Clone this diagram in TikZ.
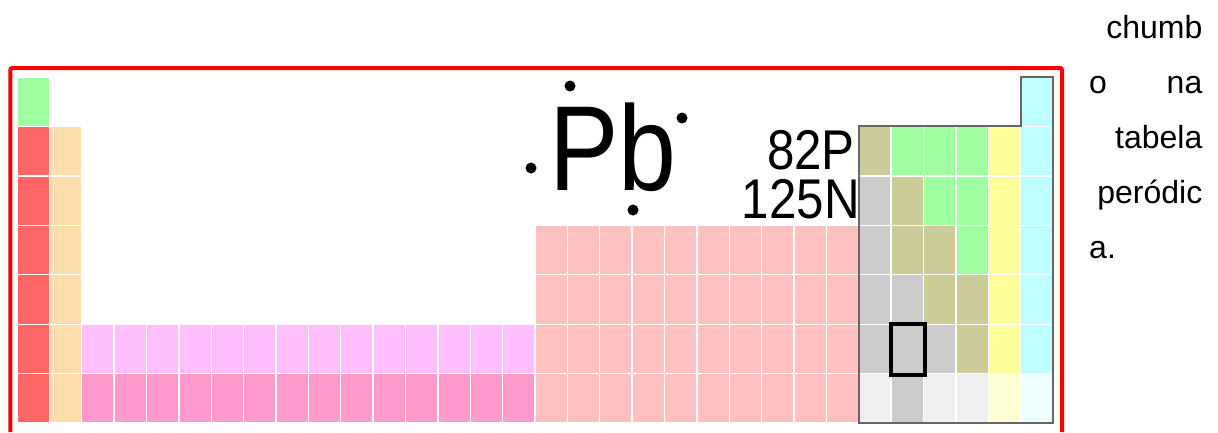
\documentclass[tikz,border=0pt]{standalone}
\usepackage{fontspec}
\setmainfont{Liberation Sans}
\usepackage{graphicx}
\usepackage{xcolor}
\definecolor{alkali}{HTML}{FF6666}
\definecolor{alkearth}{HTML}{FFDEAD}
\definecolor{lanth}{HTML}{FFBFFF}
\definecolor{actin}{HTML}{FF99CC}
\definecolor{trans}{HTML}{FFC0C0}
\definecolor{postmet}{HTML}{CCCCCC}
\definecolor{metalloid}{HTML}{CCCC99}
\definecolor{nonmet}{HTML}{A0FFA0}
\definecolor{halogen}{HTML}{FFFF99}
\definecolor{noble}{HTML}{C0FFFF}
\definecolor{unknown}{HTML}{EFEFEF}
\definecolor{halounk}{HTML}{FFFFD4}
\definecolor{nobleunk}{HTML}{EEFFFF}
\definecolor{framegray}{HTML}{666666}
\tikzset{
  cell/.style={draw=white, line width=1.3pt},
  pframe/.style={draw=framegray, line width=2pt},
  redframe/.style={draw=red, line width=4pt, rounded corners=2pt},
  pbbox/.style={draw=black, line width=4pt},
  elec/.style={circle, fill=black, inner sep=0pt, minimum size=11pt},
  word/.style={inner sep=0pt, font=\fontsize{32}{38}\selectfont}
}
% one square of the table: column, row, colour
\newcommand{\tcell}[3]{\filldraw[cell, fill=#3] ({17+(#1-1)*32.375},{77+(#2-1)*49.43}) rectangle ++(32.375,49.43);}
\begin{document}
\begin{tikzpicture}[x=1pt, y=-1pt]
  \useasboundingbox (0,0) rectangle (1218,432);
  \fill[white] (0,0) rectangle (1218,432);
  % s block
  \tcell{1}{1}{nonmet}
  \foreach \r in {2,...,7} {\tcell{1}{\r}{alkali} \tcell{2}{\r}{alkearth}}
  % f block
  \foreach \c in {3,...,16} {\tcell{\c}{6}{lanth} \tcell{\c}{7}{actin}}
  % d block
  \foreach \c in {17,...,26} {\foreach \r in {4,...,7} {\tcell{\c}{\r}{trans}}}
  % p block
  \foreach \c/\r/\col in {32/1/noble,
      27/2/metalloid, 28/2/nonmet, 29/2/nonmet, 30/2/nonmet, 31/2/halogen, 32/2/noble,
      27/3/postmet, 28/3/metalloid, 29/3/nonmet, 30/3/nonmet, 31/3/halogen, 32/3/noble,
      27/4/postmet, 28/4/metalloid, 29/4/metalloid, 30/4/nonmet, 31/4/halogen, 32/4/noble,
      27/5/postmet, 28/5/postmet, 29/5/metalloid, 30/5/metalloid, 31/5/halogen, 32/5/noble,
      27/6/postmet, 28/6/postmet, 29/6/postmet, 30/6/metalloid, 31/6/halogen, 32/6/noble,
      27/7/unknown, 28/7/postmet, 29/7/unknown, 30/7/unknown, 31/7/halounk, 32/7/nobleunk}
    {\tcell{\c}{\r}{\col}}
  \draw[pframe] (858.75,126.43) -- (1020.6,126.43) -- (1020.6,77) -- (1053,77) -- (1053,423) -- (858.75,423) -- cycle;
  \draw[pbbox] (891,324) rectangle (925,375);
  \draw[redframe] (10.3,432) -- (10.3,68) -- (1062,68) -- (1062,432);
  % lead symbol with its four electrons
  \node[anchor=base west, inner sep=0pt] (sym) at (549,190) {\fontsize{121}{121}\selectfont\scalebox{0.86}[1]{Pb}};
  \node[elec] (e1) at (570,86) {};
  \node[elec] (e2) at (682,118) {};
  \node[elec] (e3) at (531,168) {};
  \node[elec] (e4) at (633,210) {};
  \node[anchor=base east, inner sep=0pt] (prot) at (855,169) {\fontsize{56}{56}\selectfont\scalebox{0.88}[1]{82P}};
  \node[anchor=base east, inner sep=0pt] (neut) at (860,218) {\fontsize{56}{56}\selectfont\scalebox{0.88}[1]{125N}};
  % caption column
  \node[word, anchor=base east] (w1) at (1202.5,38) {chumb};
  \node[word, anchor=base west] (w2) at (1089,93) {o};
  \node[word, anchor=base east] (w3) at (1202.5,93) {na};
  \node[word, anchor=base east] (w4) at (1202.5,148) {tabela};
  \node[word, anchor=base east] (w5) at (1202.5,203) {peródic};
  \node[word, anchor=base west] (w6) at (1089,258) {a.};
\end{tikzpicture}
\end{document}
